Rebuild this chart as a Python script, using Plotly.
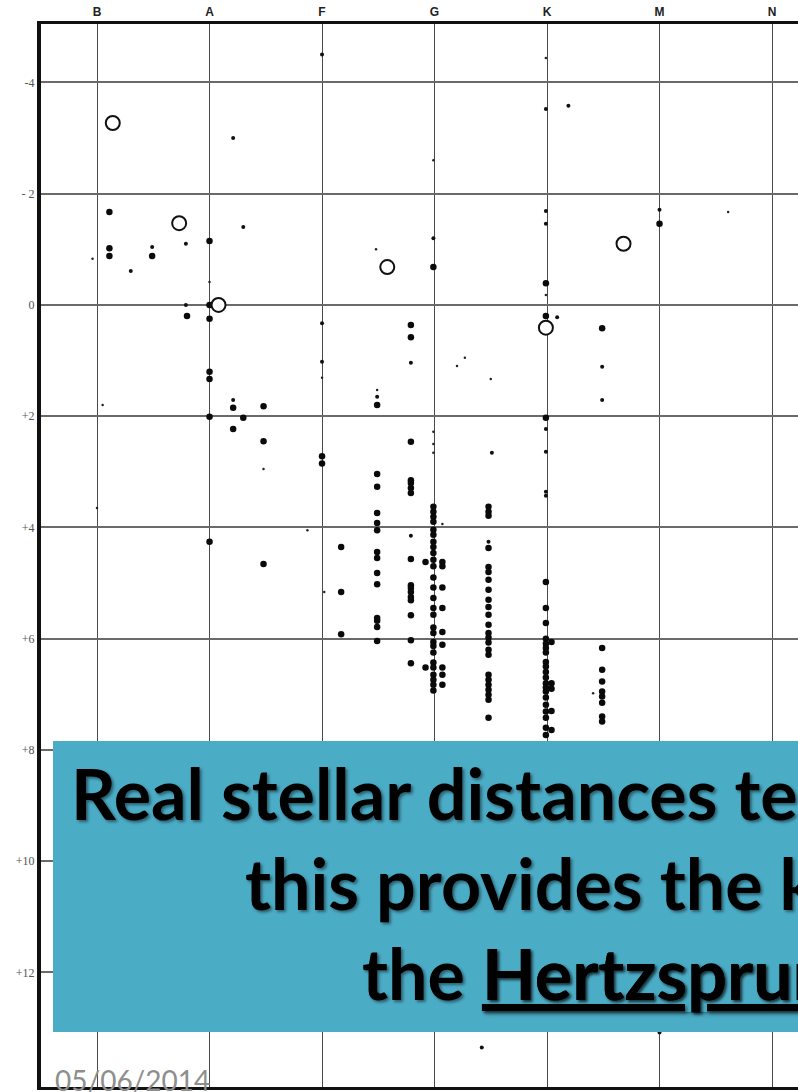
import plotly.graph_objects as go

# ---------------- data (spectral class index: B=0, A=1, F=2, G=3, K=4, M=5, N=6; absolute magnitude) ----
class_ticks = [0, 1, 2, 3, 4, 5, 6]
class_labels = ["B", "A", "F", "G", "K", "M", "N"]
mag_ticks = [-4, -2, 0, 2, 4, 6, 8, 10, 12]
mag_labels = ["-4", "- 2", "0", "+2", "+4", "+6", "+8", "+10", "+12"]

open_stars = [(0.14, -3.27), (0.73, -1.47), (1.08, 0.0), (2.58, -0.68), (3.99, 0.41), (4.68, -1.10)]

big_stars = [
    (0.11, -1.67), (0.11, -1.02), (0.11, -0.88), (0.49, -0.88), (1.0, -1.15), (1.0, 0.0), (0.8, 0.2), (1.0, 0.25),
    (1.0, 1.2), (1.0, 1.33), (1.0, 2.01), (1.0, 4.26),
    (1.21, 1.85), (1.21, 2.23), (1.3, 2.03), (1.48, 1.82), (1.48, 2.45), (1.48, 4.66),
    (2.0, 2.72), (2.0, 2.85),
    (2.17, 4.35), (2.17, 5.16), (2.17, 5.92),
    (2.49, 1.8), (2.49, 3.04), (2.49, 3.27), (2.49, 3.74), (2.49, 3.92), (2.49, 4.05), (2.49, 4.44), (2.49, 4.55),
    (2.49, 4.82), (2.49, 5.02), (2.49, 5.63), (2.49, 5.68), (2.49, 5.79), (2.49, 6.04),
    (2.79, 0.36), (2.79, 0.58), (2.79, 2.46), (2.79, 3.15), (2.79, 3.2), (2.79, 3.29), (2.79, 3.38), (2.79, 4.57),
    (2.79, 5.04), (2.79, 5.09), (2.79, 5.16), (2.79, 5.25), (2.79, 5.31), (2.79, 5.58), (2.79, 6.03), (2.79, 6.44),
    (2.99, -0.68),
    (2.99, 3.63), (2.99, 3.72), (2.99, 3.81), (2.99, 3.9), (2.99, 4.04), (2.99, 4.13), (2.99, 4.26), (2.99, 4.35),
    (2.99, 4.46), (2.99, 4.58), (2.99, 4.7), (2.99, 4.9), (2.99, 5.08), (2.99, 5.27), (2.99, 5.45), (2.99, 5.57),
    (2.99, 5.8), (2.99, 5.9), (2.99, 6.06), (2.99, 6.13), (2.99, 6.25), (2.99, 6.43), (2.99, 6.52), (2.99, 6.65),
    (2.99, 6.74), (2.99, 6.83), (2.99, 6.93),
    (3.07, 4.62), (3.07, 4.7), (3.07, 5.08), (3.07, 5.45), (3.07, 5.88), (3.07, 6.11), (3.07, 6.52), (3.07, 6.65),
    (3.07, 6.83), (2.92, 4.62), (2.92, 6.52),
    (3.48, 3.63), (3.48, 3.72), (3.48, 3.79), (3.48, 4.37), (3.48, 4.71), (3.48, 4.8), (3.48, 4.94), (3.48, 5.12),
    (3.48, 5.3), (3.48, 5.43), (3.48, 5.57), (3.48, 5.75), (3.48, 5.9), (3.48, 5.98), (3.48, 6.07), (3.48, 6.2),
    (3.48, 6.29), (3.48, 6.65), (3.48, 6.74), (3.48, 6.83), (3.48, 6.92), (3.48, 7.01), (3.48, 7.1), (3.48, 7.42),
    (3.99, -0.39), (3.99, 0.2), (3.99, 2.03), (3.99, 4.98), (3.99, 5.45), (3.99, 5.72), (3.99, 6.0), (3.99, 6.09),
    (3.99, 6.17), (3.99, 6.25), (3.99, 6.42), (3.99, 6.5), (3.99, 6.6), (3.99, 6.7), (3.99, 6.8), (3.99, 6.88),
    (3.99, 6.95), (3.99, 7.06), (3.99, 7.19), (3.99, 7.31), (3.99, 7.42), (3.99, 7.6), (3.99, 7.73),
    (4.04, 6.06), (4.04, 6.8), (4.04, 6.9), (4.04, 7.3), (4.04, 7.64),
    (4.49, 0.42), (4.49, 6.17), (4.49, 6.56), (4.49, 6.77), (4.49, 6.95), (4.49, 7.04), (4.49, 7.15), (4.49, 7.4),
    (4.49, 7.49),
    (5.0, -1.46),
]

small_stars = [
    (1.21, -3.0), (2.0, -4.5), (1.3, -1.4), (0.79, -1.1), (0.49, -1.04), (0.3, -0.61), (0.79, 0.0), (2.0, 0.33),
    (2.0, 1.02), (1.21, 1.71), (2.49, 1.65), (2.79, 1.04), (2.99, -1.2), (4.09, 0.22), (3.51, 2.66), (2.79, 4.15),
    (4.19, -3.58), (3.42, 13.35), (3.48, 4.26), (3.99, 2.23), (3.99, 2.64), (3.99, 3.36), (3.99, 3.43),
    (3.99, -1.46), (3.99, -1.69), (3.99, -3.52), (4.49, 1.11), (4.49, 1.71), (5.0, -1.71), (5.0, 13.08),
]

tiny_stars = [
    (-0.04, -0.83), (1.0, -0.41), (2.48, -1.0), (2.49, 1.53), (2.0, 1.31), (0.05, 1.8), (0.0, 3.65), (1.48, 2.95),
    (1.87, 4.05), (2.02, 5.16), (3.2, 1.1), (3.27, 0.95), (3.5, 1.33), (2.99, 2.28), (2.99, 2.5), (2.99, 2.66),
    (3.07, 3.94), (5.61, -1.67), (4.41, 6.98), (3.99, -0.18), (2.99, -2.6), (3.99, -4.44),
]

caption_lines = [
    "Real stellar distances te",
    "this provides the k",
    "the <u>Hertzsprun</u>",
]
date_text = "05/06/2014"

# ---------------- figure geometry ----------------
W, H = 798, 1092
PL, PR, PT, PB = 41, 798, 24, 1087          # plot area in page pixels
L, T, R, B = PL, PT, W - PR, H - PB


def px(xp):
    return (xp - PL) / (PR - PL)


def py(yp):
    return (PB - yp) / (PB - PT)


fig = go.Figure()


def add(points, size, color, line_w=0, line_c="#111"):
    xs = [p[0] for p in points]
    ys = [p[1] for p in points]
    fig.add_trace(go.Scatter(
        x=xs, y=ys, mode="markers", hoverinfo="skip", showlegend=False,
        marker=dict(size=size, color=color, line=dict(width=line_w, color=line_c)),
    ))


add(tiny_stars, 2.5, "#222")
add(small_stars, 4, "#111")
add(big_stars, 6.5, "#0a0a0a")
add(open_stars, 14, "white", line_w=2, line_c="#111")

fig.update_layout(
    width=W, height=H,
    margin=dict(l=L, r=R, t=T, b=B, pad=0),
    paper_bgcolor="white", plot_bgcolor="white",
    xaxis=dict(
        range=[-0.498, 6.231], side="top", tickvals=class_ticks, ticktext=class_labels,
        showgrid=True, gridcolor="#4a4a4a", gridwidth=1.3, zeroline=False,
        showline=True, linecolor="#111", linewidth=3, mirror=True, ticks="",
        tickfont=dict(family="Liberation Sans", size=12, color="#222", weight="bold"),
    ),
    yaxis=dict(
        range=[14.06, -5.05], tickvals=mag_ticks, ticktext=mag_labels,
        showgrid=True, gridcolor="#6a6a6a", gridwidth=1.8, zeroline=False,
        showline=True, linecolor="#111", linewidth=4, mirror=False, ticks="",
        tickfont=dict(family="Liberation Serif", size=12, color="#555"),
    ),
)

# blue caption box
fig.add_shape(type="rect", xref="paper", yref="paper",
              x0=px(53), x1=px(830), y0=py(1032), y1=py(741),
              fillcolor="#4BACC6", line=dict(width=0), layer="above")

line_x = [69, 243, 360]
line_center_y = [793, 883, 973]
for txt, xp, yp in zip(caption_lines, line_x, line_center_y):
    fig.add_annotation(
        x=px(xp), y=py(yp), xref="paper", yref="paper", xanchor="left", yanchor="middle",
        text=txt, showarrow=False, align="left",
        font=dict(family="Lato", size=70, color="black", weight="bold",
                  shadow="2px 2px 3px rgba(0,0,0,0.45)"),
    )

fig.add_annotation(
    x=px(53), y=py(1061), xref="paper", yref="paper", xanchor="left", yanchor="top",
    text=date_text, showarrow=False,
    font=dict(family="Lato", size=28, color="#8E8E8E"),
)

fig.write_html(
    "out.html",
    config={"displayModeBar": False},
    post_script="document.body.style.margin='0px';document.body.style.overflow='hidden';",
)
